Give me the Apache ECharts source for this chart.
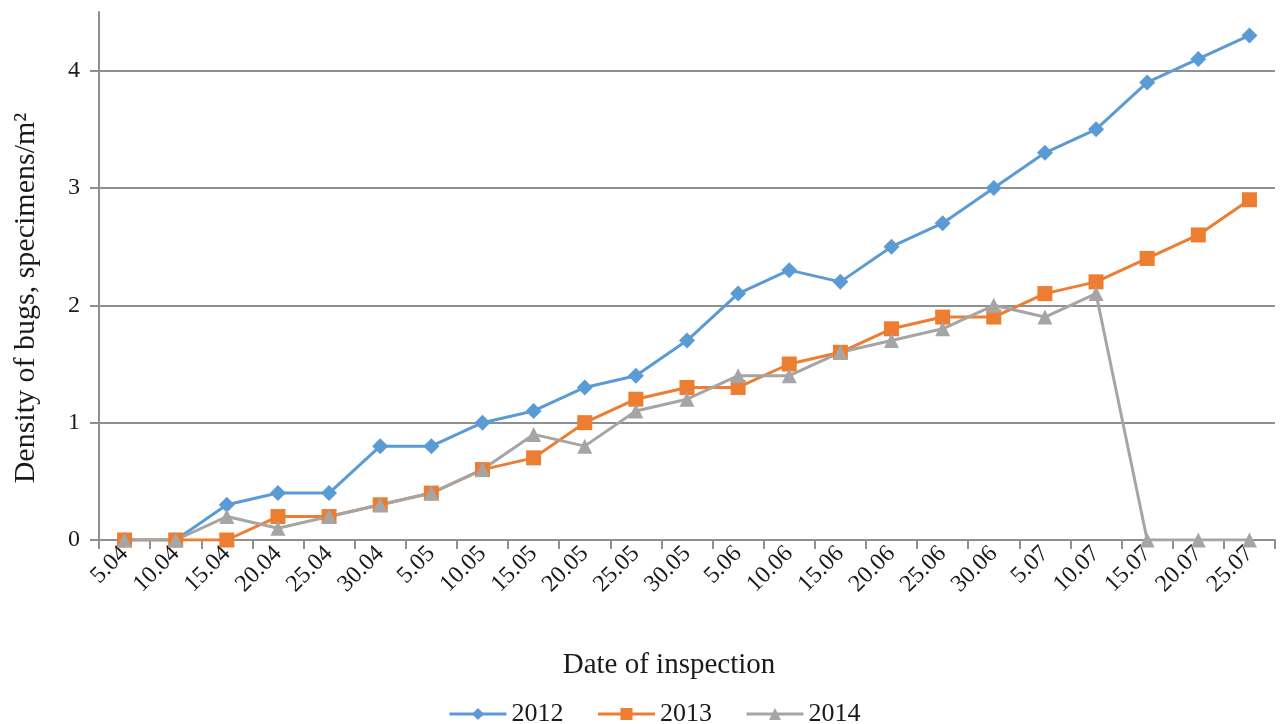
<!DOCTYPE html>
<html>
<head>
<meta charset="utf-8">
<script src="https://cdn.jsdelivr.net/npm/echarts@6/dist/echarts.min.js"></script>
<style>
  html, body { margin: 0; padding: 0; background: #fff; }
  #chart { width: 1280px; height: 724px; }
</style>
</head>
<body>
<div id="chart"></div>
<script>
// Inspection dates (day.month)
const dates = ['5.04', '10.04', '15.04', '20.04', '25.04', '30.04',
  '5.05', '10.05', '15.05', '20.05', '25.05', '30.05',
  '5.06', '10.06', '15.06', '20.06', '25.06', '30.06',
  '5.07', '10.07', '15.07', '20.07', '25.07'];

// Bug density, specimens per m², by season
const density2012 = [0, 0, 0.3, 0.4, 0.4, 0.8, 0.8, 1.0, 1.1, 1.3, 1.4, 1.7, 2.1, 2.3, 2.2, 2.5, 2.7, 3.0, 3.3, 3.5, 3.9, 4.1, 4.3];
const density2013 = [0, 0, 0, 0.2, 0.2, 0.3, 0.4, 0.6, 0.7, 1.0, 1.2, 1.3, 1.3, 1.5, 1.6, 1.8, 1.9, 1.9, 2.1, 2.2, 2.4, 2.6, 2.9];
const density2014 = [0, 0, 0.2, 0.1, 0.2, 0.3, 0.4, 0.6, 0.9, 0.8, 1.1, 1.2, 1.4, 1.4, 1.6, 1.7, 1.8, 2.0, 1.9, 2.1, 0, 0, 0];

const yTicks = [0, 1, 2, 3, 4];

const FONT = '"Liberation Serif", "Times New Roman", serif';
const GRID = '#8f8f8f';
const INK = '#1a1a1a';

const chart = echarts.init(document.getElementById('chart'));

function lineSeries(name, data, color, symbol, size) {
  return {
    name: name,
    type: 'line',
    data: data,
    symbol: symbol,
    symbolSize: size,
    showAllSymbol: true,
    lineStyle: { color: color, width: 3 },
    itemStyle: { color: color },
    emphasis: { disabled: true },
    animation: false
  };
}

chart.setOption({
  animation: false,
  textStyle: { fontFamily: FONT },
  grid: { left: 99, right: 5, top: 12, bottom: 184, containLabel: false },
  legend: {
    left: 443,
    top: 696,
    itemWidth: 57,
    itemHeight: 15,
    itemGap: 33,
    lineStyle: { width: 3 },
    textStyle: { fontFamily: FONT, fontSize: 26, color: INK },
    data: ['2012', '2013', '2014']
  },
  xAxis: {
    type: 'category',
    data: dates,
    boundaryGap: true,
    axisLine: { lineStyle: { color: GRID, width: 2 } },
    axisTick: { show: true, length: 9, lineStyle: { color: GRID, width: 2 } },
    axisLabel: {
      rotate: 45,
      interval: 0,
      margin: 10,
      fontFamily: FONT,
      fontSize: 24,
      color: INK
    }
  },
  yAxis: {
    type: 'value',
    min: 0,
    max: 4.5,
    interval: 1,
    axisLine: { show: true, lineStyle: { color: GRID, width: 2 } },
    axisTick: { show: true, length: 9, customValues: yTicks, lineStyle: { color: GRID, width: 2 } },
    axisLabel: {
      customValues: yTicks,
      margin: 19,
      fontFamily: FONT,
      fontSize: 24,
      color: INK
    },
    splitLine: {
      show: true,
      lineStyle: { color: [GRID, GRID, GRID, GRID, GRID, 'rgba(0,0,0,0)'], width: 2 }
    }
  },
  graphic: [{
    type: 'text',
    x: 669,
    y: 665,
    style: {
      text: 'Date of inspection',
      font: '29px ' + FONT,
      fill: INK,
      align: 'center',
      verticalAlign: 'middle'
    }
  }, {
    type: 'text',
    x: 26,
    y: 298,
    rotation: Math.PI / 2,
    style: {
      text: 'Density of bugs, specimens/m²',
      font: '30px ' + FONT,
      fill: INK,
      align: 'center',
      verticalAlign: 'middle'
    }
  }],
  series: [
    lineSeries('2012', density2012, '#5B9BD5', 'diamond', 16),
    lineSeries('2013', density2013, '#ED7D31', 'rect', 15),
    lineSeries('2014', density2014, '#A5A5A5', 'triangle', 15)
  ]
});
</script>
</body>
</html>
